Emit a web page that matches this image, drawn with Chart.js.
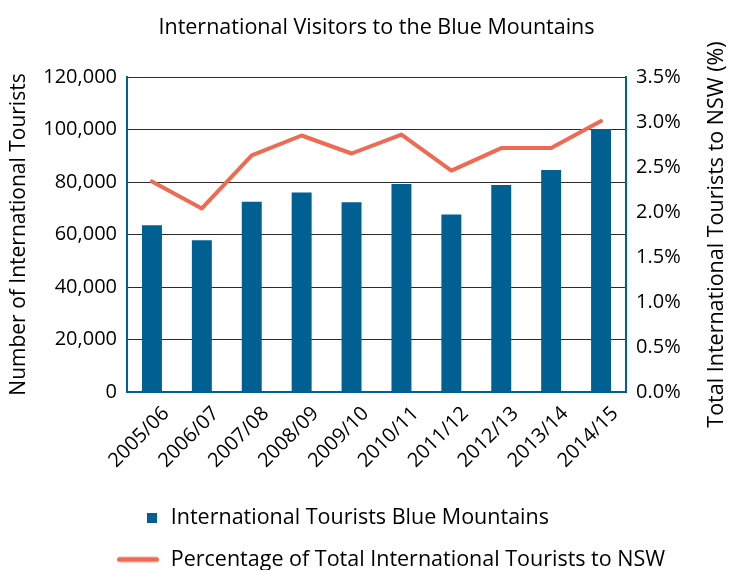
<!DOCTYPE html>
<html><head><meta charset="utf-8">
<script src="https://cdn.jsdelivr.net/npm/chart.js@4.4.0/dist/chart.umd.min.js"></script>
<style>html,body{margin:0;padding:0;background:#fff}</style>
</head><body>
<canvas id="c" width="729" height="570"></canvas>
<script>
const categories = ['2005/06','2006/07','2007/08','2008/09','2009/10','2010/11','2011/12','2012/13','2013/14','2014/15'];
const touristsBlueMountains = [63500, 57800, 72500, 76000, 72300, 79200, 67600, 78900, 84600, 100200];
const percentOfNSW = [2.34, 2.04, 2.63, 2.85, 2.65, 2.86, 2.46, 2.71, 2.71, 3.01];
const leftTicks = [0, 20000, 40000, 60000, 80000, 100000, 120000];
const rightTicks = [0, 0.5, 1.0, 1.5, 2.0, 2.5, 3.0, 3.5];
const chartTitle = 'International Visitors to the Blue Mountains';
const leftTitle = 'Number of International Tourists';
const rightTitle = 'Total International Tourists to NSW (%)';
const barLabel = 'International Tourists Blue Mountains';
const lineLabel = 'Percentage of Total International Tourists to NSW';

const BLUE = '#006092';
const CORAL = '#ef6a52';
const FONT = "'Open Sans', sans-serif";
Chart.defaults.font.family = FONT;
Chart.defaults.color = '#000';

function squareIcon(color){
  const c = document.createElement('canvas'); c.width = 140; c.height = 12;
  const g = c.getContext('2d'); g.fillStyle = color; g.fillRect(127, 1, 10, 10); return c;
}
function lineIcon(color){
  const c = document.createElement('canvas'); c.width = 140; c.height = 8;
  const g = c.getContext('2d'); g.strokeStyle = color; g.lineWidth = 5; g.lineCap = 'round';
  g.beginPath(); g.moveTo(99.5, 4); g.lineTo(136.5, 4); g.stroke(); return c;
}
const icons = [squareIcon(BLUE), lineIcon(CORAL)];

const rightTitlePlugin = {
  id: 'rightTitle',
  afterDraw(chart){
    const ctx = chart.ctx, a = chart.chartArea, s = chart.scales.y1;
    ctx.save();
    ctx.translate(s.right - 12.5, (a.top + a.bottom) / 2);
    ctx.rotate(-Math.PI / 2);
    ctx.font = "21.5px " + FONT;
    ctx.fillStyle = '#000'; ctx.textAlign = 'center'; ctx.textBaseline = 'middle';
    ctx.fillText(rightTitle, 0, 0);
    ctx.restore();
  }
};

new Chart(document.getElementById('c'), {
  data: {
    labels: categories,
    datasets: [
      { type: 'line', label: lineLabel, data: percentOfNSW, yAxisID: 'y1', borderColor: CORAL, backgroundColor: CORAL,
        borderWidth: 4, pointRadius: 0, borderCapStyle: 'round', borderJoinStyle: 'round', tension: 0, order: 0 },
      { type: 'bar', label: barLabel, data: touristsBlueMountains, yAxisID: 'y', backgroundColor: BLUE,
        categoryPercentage: 1, barPercentage: 0.4, order: 1 }
    ]
  },
  options: {
    responsive: false, animation: false,
    layout: { padding: { left: 0, right: 0, top: 0, bottom: -10.25 } },
    plugins: {
      title: { display: true, fullSize: false, text: chartTitle, font: { size: 21.5, weight: 'normal' }, color: '#000', padding: { top: 15, bottom: 36.2 } },
      tooltip: { enabled: false },
      legend: {
        position: 'bottom', align: 'start',
        labels: {
          usePointStyle: true, pointStyleWidth: 140, padding: 20, font: { size: 21.5 }, color: '#000',
          generateLabels: (chart) => [1, 0].map((di, k) => ({
            text: chart.data.datasets[di].label, pointStyle: icons[k], fillStyle: chart.data.datasets[di].backgroundColor,
            strokeStyle: chart.data.datasets[di].backgroundColor, lineWidth: 0, hidden: false, datasetIndex: di, fontColor: '#000'
          }))
        }
      }
    },
    scales: {
      x: {
        offset: true,
        grid: { display: false, drawTicks: false },
        border: { color: BLUE, width: 2 },
        ticks: { minRotation: 45, maxRotation: 45, padding: 10, labelOffset: 14, font: { size: 20 }, color: '#000' },
        afterFit: (s) => { s.height = 95.25; }
      },
      y: {
        position: 'left', min: 0, max: 120000,
        afterBuildTicks: (s) => { s.ticks = leftTicks.map(v => ({ value: v })); },
        grid: { color: (c) => c.tick && c.tick.value === 0 ? 'rgba(0,0,0,0)' : '#2b2b2b', lineWidth: 1, drawTicks: false },
        border: { color: BLUE, width: 2 },
        ticks: { padding: 10, font: { size: 20 }, color: '#000', callback: (v) => v.toLocaleString('en-US') },
        title: { display: true, text: leftTitle, font: { size: 21 }, color: '#000', padding: { top: 6, bottom: 0 } },
        afterFit: (s) => { s.width = 127; }
      },
      y1: {
        position: 'right', min: 0, max: 3.5,
        afterBuildTicks: (s) => { s.ticks = rightTicks.map(v => ({ value: v })); },
        grid: { display: false, drawTicks: false },
        border: { color: BLUE, width: 2 },
        ticks: { padding: 10, font: { size: 20 }, color: '#000', callback: (v) => Number(v).toFixed(1) + '%' },
        afterFit: (s) => { s.width = 103; }
      }
    }
  },
  plugins: [rightTitlePlugin]
});
</script>
</body></html>
